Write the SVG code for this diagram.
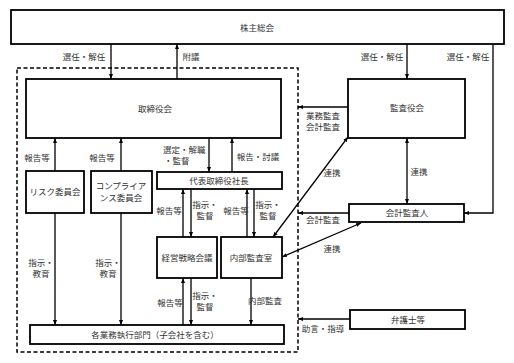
<svg xmlns="http://www.w3.org/2000/svg" width="514" height="363" viewBox="0 0 514 363">
<style>
  .box { fill: #fff; stroke: #000; stroke-width: 1.8; }
  .dash { fill: none; stroke: #000; stroke-width: 1.5; stroke-dasharray: 4 2.5; }
  .ln { fill: none; stroke: #000; stroke-width: 1.3; }
  text { font-family: "Noto Sans CJK JP", "Noto Sans", sans-serif; font-size: 8.5px; fill: #333; text-anchor: middle; }
  .st { text-anchor: start; }
</style>
<defs>
  <marker id="ah" viewBox="0 0 10 10" refX="10" refY="5" markerWidth="5" markerHeight="5" orient="auto-start-reverse" markerUnits="userSpaceOnUse">
    <path d="M0,1 L10,5 L0,9 z" fill="#000"/>
  </marker>
</defs>
<rect width="514" height="363" fill="#fff"/>

<rect id="boundary" class="dash" x="17" y="68" width="281" height="284"/>

<g id="connectors">
  <line class="ln" x1="111" y1="44" x2="111" y2="79" marker-end="url(#ah)"/>
  <line class="ln" x1="177" y1="79" x2="177" y2="44" marker-end="url(#ah)"/>
  <line class="ln" x1="407" y1="44" x2="407" y2="79" marker-end="url(#ah)"/>
  <polyline class="ln" points="493,44 493,213 464,213" marker-end="url(#ah)"/>
  <line class="ln" x1="348" y1="107" x2="298" y2="107" marker-end="url(#ah)"/>
  <line class="ln" x1="407" y1="138" x2="407" y2="204" marker-start="url(#ah)" marker-end="url(#ah)"/>
  <line class="ln" x1="349" y1="213" x2="298" y2="213" marker-end="url(#ah)"/>
  <line class="ln" x1="348" y1="137" x2="273" y2="237" marker-start="url(#ah)" marker-end="url(#ah)"/>
  <line class="ln" x1="282" y1="257" x2="361" y2="223" marker-start="url(#ah)" marker-end="url(#ah)"/>
  <line class="ln" x1="350" y1="319" x2="298" y2="319" marker-end="url(#ah)"/>
  <line class="ln" x1="55" y1="171" x2="55" y2="138" marker-end="url(#ah)"/>
  <line class="ln" x1="121" y1="171" x2="121" y2="138" marker-end="url(#ah)"/>
  <line class="ln" x1="55" y1="213" x2="55" y2="325" marker-end="url(#ah)"/>
  <line class="ln" x1="121" y1="213" x2="121" y2="325" marker-end="url(#ah)"/>
  <line class="ln" x1="209" y1="138" x2="209" y2="172" marker-end="url(#ah)"/>
  <line class="ln" x1="232" y1="172" x2="232" y2="138" marker-end="url(#ah)"/>
  <line class="ln" x1="183" y1="237" x2="183" y2="189" marker-end="url(#ah)"/>
  <line class="ln" x1="191" y1="189" x2="191" y2="237" marker-end="url(#ah)"/>
  <line class="ln" x1="247" y1="237" x2="247" y2="189" marker-end="url(#ah)"/>
  <line class="ln" x1="254" y1="189" x2="254" y2="237" marker-end="url(#ah)"/>
  <line class="ln" x1="183" y1="325" x2="183" y2="278" marker-end="url(#ah)"/>
  <line class="ln" x1="191" y1="278" x2="191" y2="325" marker-end="url(#ah)"/>
  <line class="ln" x1="251" y1="278" x2="251" y2="325" marker-end="url(#ah)"/>

  <text x="84" y="60">選任・解任</text>
  <text x="191" y="60">附議</text>
  <text x="382" y="60">選任・解任</text>
  <text x="468" y="60">選任・解任</text>
  <text x="323" y="119">業務監査</text>
  <text x="323" y="130">会計監査</text>
  <text x="419" y="175">連携</text>
  <text x="323" y="223">会計監査</text>
  <text x="332" y="176">連携</text>
  <text x="332" y="252">連携</text>
  <text x="323" y="332">助言・指導</text>
  <text x="37" y="161">報告等</text>
  <text x="102" y="161">報告等</text>
  <text x="41" y="266">指示・</text>
  <text x="41" y="277">教育</text>
  <text x="108" y="266">指示・</text>
  <text x="108" y="277">教育</text>
  <text class="st" x="163" y="153">選定・解職</text>
  <text class="st" x="164" y="164">・監督</text>
  <text x="258" y="160">報告・討議</text>
  <text x="169" y="214">報告等</text>
  <text x="205" y="208">指示・</text>
  <text x="205" y="219">監督</text>
  <text x="236" y="214">報告等</text>
  <text x="268" y="208">指示・</text>
  <text x="268" y="219">監督</text>
  <text x="170" y="306">報告等</text>
  <text x="205" y="299">指示・</text>
  <text x="205" y="310">監督</text>
  <text x="265" y="304">内部監査</text>
</g>

<g id="shareholders"><rect class="box" x="11" y="10" width="493" height="34"/><text x="257" y="31">株主総会</text></g>
<g id="board"><rect class="box" x="26" y="79" width="255" height="59"/><text x="155" y="112">取締役会</text></g>
<g id="auditboard"><rect class="box" x="348" y="79" width="117" height="59"/><text x="407" y="111">監査役会</text></g>
<g id="accountingauditor"><rect class="box" x="349" y="204" width="115" height="18"/><text x="407" y="216">会計監査人</text></g>
<g id="lawyers"><rect class="box" x="350" y="310" width="115" height="19"/><text x="408" y="323">弁護士等</text></g>
<g id="risk"><rect class="box" x="26" y="171" width="58" height="42"/><text x="55" y="195">リスク委員会</text></g>
<g id="compliance"><rect class="box" x="91" y="171" width="61" height="42"/><text x="121" y="189">コンプライア</text><text x="121" y="201">ンス委員会</text></g>
<g id="president"><rect class="box" x="157" y="172" width="125" height="17"/><text x="219" y="184">代表取締役社長</text></g>
<g id="strategy"><rect class="box" x="157" y="237" width="60" height="41"/><text x="187" y="261">経営戦略会議</text></g>
<g id="internalaudit"><rect class="box" x="221" y="237" width="61" height="41"/><text x="251" y="261">内部監査室</text></g>
<g id="divisions"><rect class="box" x="30" y="325" width="254" height="19"/><text x="155" y="338">各業務執行部門（子会社を含む）</text></g>
</svg>
